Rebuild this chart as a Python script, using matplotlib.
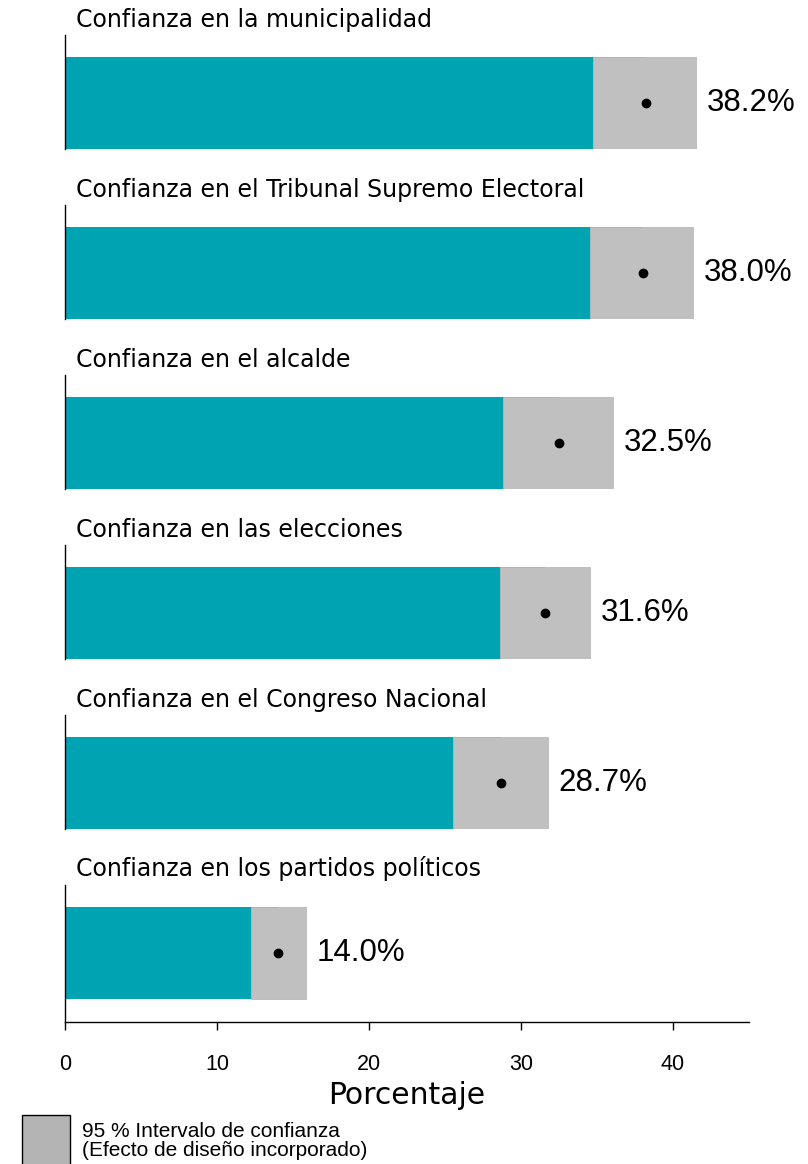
import matplotlib
matplotlib.use("Agg")
import matplotlib.pyplot as plt
from matplotlib.patches import Rectangle

plt.rcParams['font.family'] = ['Liberation Sans', 'DejaVu Sans']

categories = [
    "Confianza en la municipalidad",
    "Confianza en el Tribunal Supremo Electoral",
    "Confianza en el alcalde",
    "Confianza en las elecciones",
    "Confianza en el Congreso Nacional",
    "Confianza en los partidos políticos",
]
estimates = [38.2, 38.0, 32.5, 31.6, 28.7, 14.0]
ci_lower = [34.75, 34.55, 28.83, 28.64, 25.55, 12.22]
ci_upper = [41.5, 41.3, 36.06, 34.55, 31.79, 15.83]
xticks = [0, 10, 20, 30, 40]
xlabel = "Porcentaje"
legend_text = "95 % Intervalo de confianza\n(Efecto de diseño incorporado)"

W, H = 808, 1164
fig = plt.figure(figsize=(W / 100, H / 100), dpi=100)

teal = "#00a3b1"
grey = "#c0c0c0"
left_px, right_px = 65, 749
n = len(categories)
for i in range(n):
    top = 35 + 170 * i
    last = (i == n - 1)
    bottom = top + (137 if last else 114)
    ax = fig.add_axes([left_px / W, 1 - bottom / H, (right_px - left_px) / W, (bottom - top) / H])
    ax.set_xlim(0, 45)
    ax.set_ylim(0, 1)
    hpx = bottom - top
    bar_bot = (23 / hpx) if last else 0.0
    bar_h = 92 / hpx
    ax.barh(bar_bot, estimates[i], height=bar_h, align='edge', color=teal, zorder=1)
    ax.barh(bar_bot, ci_upper[i] - ci_lower[i], left=ci_lower[i], height=bar_h,
            align='edge', color=grey, edgecolor='#b8b8b8', linewidth=0.6, zorder=2)
    ymid = bar_bot + bar_h / 2
    ax.plot([estimates[i]], [ymid], 'o', color='black', markersize=6, zorder=3)
    ax.text(ci_upper[i] + 0.7, ymid, f"{estimates[i]:.1f}%", fontsize=22.5,
            va='center', ha='left')
    ax.text(0.7, 1.03, categories[i], fontsize=17, va='bottom', ha='left',
            family=['DejaVu Sans'], transform=ax.get_xaxis_transform())
    for s in ['top', 'right']:
        ax.spines[s].set_visible(False)
    ax.spines['left'].set_linewidth(1.0)
    ax.set_yticks([])
    if last:
        ax.spines['bottom'].set_linewidth(1.0)
        ax.set_xticks(xticks)
        ax.set_xticklabels([str(t) for t in xticks], fontsize=15.5)
        ax.tick_params(axis='x', length=6, width=1, pad=17)
        ax.set_xlabel(xlabel, fontsize=21.5, labelpad=4, family=['DejaVu Sans'])
    else:
        ax.spines['bottom'].set_visible(False)
        ax.set_xticks([])

# legend
fig.patches.append(Rectangle((22 / W, 1 - 1166 / H), 48 / W, 51 / H,
                             transform=fig.transFigure, facecolor='#b4b4b4',
                             edgecolor='black', linewidth=1))
fig.text(82 / W, 1 - 1141 / H, legend_text, fontsize=15, va='center', ha='left',
         linespacing=1.0)

fig.savefig("out.png", dpi=100)
